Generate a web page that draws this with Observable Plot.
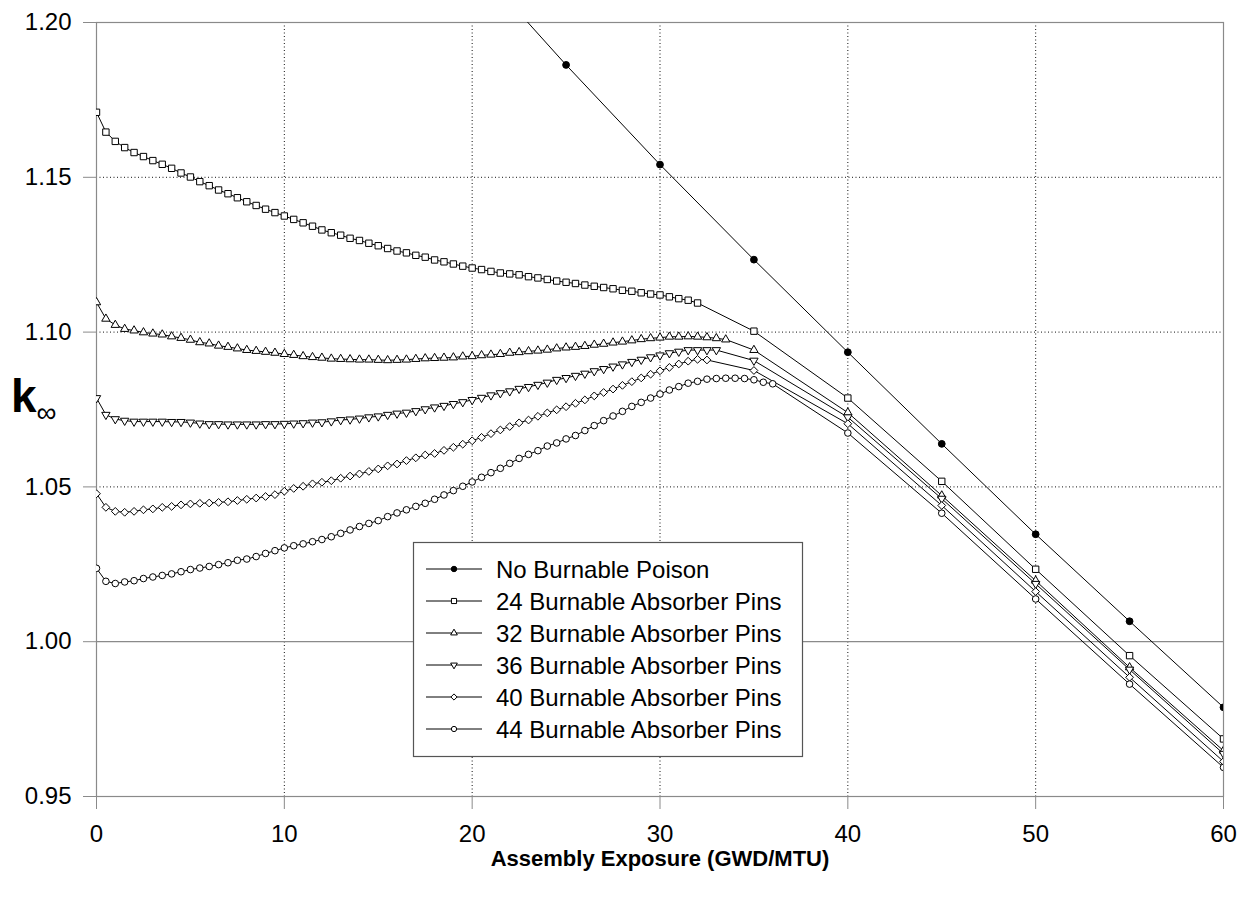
<!DOCTYPE html>
<html>
<head>
<meta charset="utf-8">
<script src="https://cdn.jsdelivr.net/npm/d3@7"></script>
<script src="https://cdn.jsdelivr.net/npm/@observablehq/plot@0.6"></script>
<style>
  html, body { margin: 0; padding: 0; background: #fff; }
  #chart { position: relative; width: 1253px; height: 901px; }
  #chart svg { display: block; }
</style>
</head>
<body>
<div id="chart"></div>
<script>
// ---------------- data ----------------
const seriesNames = [
  "No Burnable Poison",
  "24 Burnable Absorber Pins",
  "32 Burnable Absorber Pins",
  "36 Burnable Absorber Pins",
  "40 Burnable Absorber Pins",
  "44 Burnable Absorber Pins"
];
const xTicks = [0, 10, 20, 30, 40, 50, 60];
const yTicks = [0.95, 1.00, 1.05, 1.10, 1.15, 1.20];
const gridX = [10, 20, 30, 40, 50];
const gridY = [1.05, 1.10, 1.15];

const coarseExposure = [35, 40, 45, 50, 55, 60];
const noBpExposure = [20, 25, 30, 35, 40, 45, 50, 55, 60];
const noBpK = [1.2200, 1.1863, 1.1541, 1.1234, 1.0935, 1.0639, 1.0347, 1.0066, 0.9788];

// fine steps of 0.5 GWD/MTU followed by the 5 GWD/MTU steps
const pins24Exposure = d3.range(0, 32.25, 0.5).concat(coarseExposure);
const pins24K = [
  1.1710, 1.1646, 1.1616, 1.1596, 1.1580, 1.1567, 1.1554, 1.1542, 1.1529, 1.1514,
  1.1501, 1.1486, 1.1473, 1.1459, 1.1447, 1.1434, 1.1421, 1.1409, 1.1397, 1.1386,
  1.1375, 1.1364, 1.1353, 1.1342, 1.1330, 1.1321, 1.1313, 1.1303, 1.1296, 1.1287,
  1.1279, 1.1270, 1.1262, 1.1256, 1.1248, 1.1242, 1.1233, 1.1227, 1.1220, 1.1213,
  1.1207, 1.1202, 1.1196, 1.1191, 1.1188, 1.1185, 1.1179, 1.1175, 1.1170, 1.1165,
  1.1161, 1.1157, 1.1152, 1.1148, 1.1144, 1.1140, 1.1135, 1.1132, 1.1127, 1.1123,
  1.1120, 1.1114, 1.1108, 1.1103, 1.1094,
  1.1003, 1.0787, 1.0518, 1.0234, 0.9955, 0.9686
];

const pins32Exposure = d3.range(0, 33.75, 0.5).concat(coarseExposure);
const pins32K = [
  1.1096, 1.1043, 1.1023, 1.1010, 1.1005, 1.0999, 1.0995, 1.0992, 1.0986, 1.0981,
  1.0975, 1.0967, 1.0963, 1.0956, 1.0952, 1.0947, 1.0942, 1.0939, 1.0936, 1.0933,
  1.0929, 1.0926, 1.0922, 1.0919, 1.0917, 1.0914, 1.0913, 1.0912, 1.0911, 1.0911,
  1.0910, 1.0909, 1.0910, 1.0911, 1.0913, 1.0915, 1.0916, 1.0917, 1.0918, 1.0921,
  1.0922, 1.0925, 1.0927, 1.0929, 1.0933, 1.0935, 1.0938, 1.0940, 1.0943, 1.0947,
  1.0950, 1.0952, 1.0955, 1.0959, 1.0962, 1.0966, 1.0969, 1.0973, 1.0977, 1.0980,
  1.0982, 1.0985, 1.0985, 1.0986, 1.0985, 1.0983, 1.0980, 1.0976,
  1.0942, 1.0740, 1.0472, 1.0197, 0.9917, 0.9648
];

const pins36Exposure = d3.range(0, 33.25, 0.5).concat(coarseExposure);
const pins36K = [
  1.0787, 1.0733, 1.0719, 1.0714, 1.0711, 1.0711, 1.0711, 1.0711, 1.0710, 1.0710,
  1.0708, 1.0705, 1.0703, 1.0703, 1.0702, 1.0702, 1.0702, 1.0702, 1.0703, 1.0703,
  1.0704, 1.0705, 1.0706, 1.0708, 1.0709, 1.0712, 1.0716, 1.0718, 1.0721, 1.0725,
  1.0728, 1.0733, 1.0737, 1.0740, 1.0745, 1.0751, 1.0757, 1.0762, 1.0768, 1.0774,
  1.0781, 1.0788, 1.0796, 1.0803, 1.0809, 1.0817, 1.0823, 1.0830, 1.0837, 1.0846,
  1.0852, 1.0859, 1.0866, 1.0874, 1.0881, 1.0889, 1.0896, 1.0904, 1.0911, 1.0919,
  1.0925, 1.0932, 1.0937, 1.0942, 1.0942, 1.0942, 1.0942,
  1.0908, 1.0725, 1.0462, 1.0187, 0.9910, 0.9638
];

const pins40Exposure = d3.range(0, 32.75, 0.5).concat(coarseExposure);
const pins40K = [
  1.0478, 1.0434, 1.0421, 1.0418, 1.0421, 1.0426, 1.0429, 1.0434, 1.0437, 1.0442,
  1.0445, 1.0447, 1.0448, 1.0450, 1.0452, 1.0456, 1.0460, 1.0464, 1.0469, 1.0475,
  1.0486, 1.0495, 1.0502, 1.0510, 1.0515, 1.0520, 1.0528, 1.0535, 1.0542, 1.0550,
  1.0558, 1.0568, 1.0574, 1.0585, 1.0594, 1.0603, 1.0608, 1.0618, 1.0628, 1.0638,
  1.0649, 1.0660, 1.0672, 1.0684, 1.0695, 1.0707, 1.0716, 1.0728, 1.0739, 1.0749,
  1.0759, 1.0770, 1.0781, 1.0794, 1.0805, 1.0816, 1.0828, 1.0840, 1.0852, 1.0864,
  1.0875, 1.0886, 1.0897, 1.0906, 1.0912, 1.0910,
  1.0876, 1.0704, 1.0440, 1.0162, 0.9885, 0.9613
];

const pins44Exposure = d3.range(0, 36.25, 0.5).concat([40, 45, 50, 55, 60]);
const pins44K = [
  1.0237, 1.0195, 1.0188, 1.0193, 1.0197, 1.0204, 1.0209, 1.0214, 1.0219, 1.0226,
  1.0233, 1.0238, 1.0243, 1.0249, 1.0255, 1.0263, 1.0267, 1.0275, 1.0285, 1.0294,
  1.0303, 1.0310, 1.0316, 1.0323, 1.0330, 1.0339, 1.0350, 1.0361, 1.0372, 1.0382,
  1.0391, 1.0404, 1.0416, 1.0426, 1.0437, 1.0447, 1.0460, 1.0474, 1.0488, 1.0502,
  1.0516, 1.0531, 1.0546, 1.0560, 1.0576, 1.0592, 1.0605, 1.0617, 1.0632, 1.0642,
  1.0655, 1.0666, 1.0682, 1.0698, 1.0714, 1.0729, 1.0744, 1.0760, 1.0773, 1.0787,
  1.0800, 1.0813, 1.0824, 1.0835, 1.0841, 1.0848, 1.0850, 1.0851, 1.0851, 1.0850,
  1.0846, 1.0838, 1.0833,
  1.0674, 1.0415, 1.0138, 0.9863, 0.9594
];

// ---------------- build rows ----------------
const seriesX = [noBpExposure, pins24Exposure, pins32Exposure, pins36Exposure, pins40Exposure, pins44Exposure];
const seriesK = [noBpK, pins24K, pins32K, pins36K, pins40K, pins44K];
const seriesRows = seriesNames.map((name, s) =>
  seriesX[s].map((x, i) => ({series: name, exposure: x, k: seriesK[s][i]}))
);
seriesRows.forEach((r, s) => { if (seriesX[s].length !== seriesK[s].length) console.warn("length mismatch", seriesNames[s]); });
const allRows = seriesRows.flat();

// ---------------- symbols ----------------
const triangleDown = {
  draw(context, size) {
    const y = -Math.sqrt(size / (Math.sqrt(3) * 3));
    context.moveTo(0, -y * 2);
    context.lineTo(Math.sqrt(3) * y, y);
    context.lineTo(-Math.sqrt(3) * y, y);
    context.closePath();
  }
};
const markerStyles = [
  {symbol: "circle", d3sym: d3.symbolCircle, r: 3.4, fill: "black"},
  {symbol: "square", d3sym: d3.symbolSquare, r: 3.6, fill: "white"},
  {symbol: "triangle", d3sym: d3.symbolTriangle, r: 3.1, fill: "white"},
  {symbol: triangleDown, d3sym: triangleDown, r: 3.1, fill: "white"},
  {symbol: "diamond2", d3sym: d3.symbolDiamond2, r: 3.5, fill: "white"},
  {symbol: "circle", d3sym: d3.symbolCircle, r: 3.3, fill: "white"}
];

const FONT = "'Liberation Sans', Arial, Helvetica, sans-serif";

const chart = Plot.plot({
  width: 1253,
  height: 901,
  marginLeft: 96,
  marginRight: 30,
  marginTop: 22,
  marginBottom: 105,
  style: {fontFamily: FONT, fontSize: "24px", color: "black", background: "white", overflow: "visible"},
  x: {domain: [0, 60]},
  y: {domain: [0.95, 1.20]},
  marks: [
    Plot.ruleX(gridX, {stroke: "#111", strokeDasharray: "1,2.5", strokeWidth: 1}),
    Plot.ruleY(gridY, {stroke: "#111", strokeDasharray: "1,2.5", strokeWidth: 1}),
    Plot.ruleY([1.00], {stroke: "#8a8a8a", strokeWidth: 1.2}),
    Plot.frame({stroke: "#8a8a8a", strokeWidth: 1.2}),
    Plot.axisY({ticks: yTicks, tickFormat: d3.format(".2f"), tickSize: 13, tickPadding: 12,
                stroke: "#8a8a8a", label: null, fontSize: 24, fill: "black"}),
    Plot.axisX({ticks: xTicks, tickFormat: d3.format("d"), tickSize: 13, tickPadding: 15,
                stroke: "#8a8a8a", label: null, fontSize: 24, fill: "black"}),
    Plot.line(allRows, {x: "exposure", y: "k", z: "series", stroke: "black", strokeWidth: 1, clip: true}),
    ...seriesRows.map((rows, s) => Plot.dot(rows, {
      x: "exposure", y: "k",
      symbol: markerStyles[s].symbol,
      r: markerStyles[s].r,
      fill: markerStyles[s].fill,
      stroke: "black",
      strokeWidth: 1,
      clip: true
    }))
  ]
});

document.getElementById("chart").appendChild(chart);

// ---------------- titles & legend ----------------
const svg = d3.select(chart);

svg.append("text")
  .attr("x", 660).attr("y", 866)
  .attr("text-anchor", "middle")
  .attr("font-family", FONT).attr("font-weight", "bold").attr("font-size", 22)
  .attr("fill", "black")
  .text("Assembly Exposure (GWD/MTU)");

const kLabel = svg.append("text")
  .attr("x", 11).attr("y", 412)
  .attr("text-anchor", "start")
  .attr("font-family", FONT).attr("font-weight", "bold").attr("font-size", 46)
  .attr("fill", "black");
kLabel.append("tspan").text("k");
kLabel.append("tspan").attr("font-size", 28).attr("font-weight", "normal").attr("dy", 10).text("∞");

const legendLeft = 413, legendTop = 542, legendW = 389, legendH = 214, rowGap = 32;
const lg = svg.append("g").attr("text-anchor", "start");
lg.append("rect")
  .attr("x", legendLeft + 0.5).attr("y", legendTop + 0.5)
  .attr("width", legendW).attr("height", legendH)
  .attr("fill", "white").attr("stroke", "#555").attr("stroke-width", 1.2);
seriesNames.forEach((name, i) => {
  const cy = legendTop + 27 + i * rowGap;
  lg.append("line")
    .attr("x1", legendLeft + 13).attr("x2", legendLeft + 69)
    .attr("y1", cy).attr("y2", cy)
    .attr("stroke", "black").attr("stroke-width", 1);
  const st = markerStyles[i];
  lg.append("path")
    .attr("transform", `translate(${legendLeft + 41},${cy})`)
    .attr("d", d3.symbol(st.d3sym, Math.PI * (st.r * 0.8) ** 2)())
    .attr("fill", st.fill).attr("stroke", "black").attr("stroke-width", 1);
  lg.append("text")
    .attr("x", legendLeft + 83).attr("y", cy)
    .attr("dy", "0.36em")
    .attr("text-anchor", "start")
    .attr("font-family", FONT).attr("font-size", 24)
    .attr("fill", "black")
    .text(name);
});
</script>
</body>
</html>
